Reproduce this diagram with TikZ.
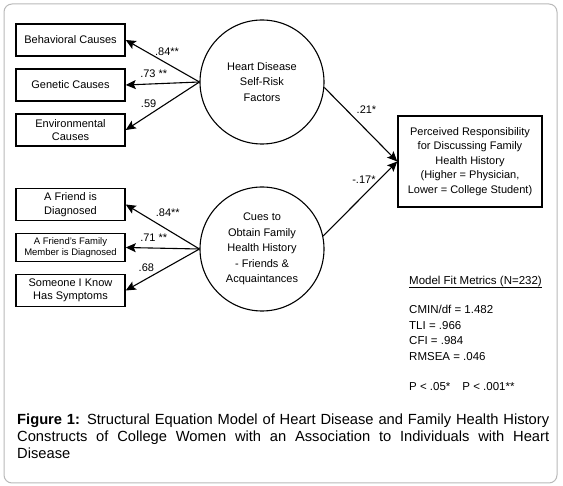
\documentclass[tikz,border=0pt]{standalone}
\usepackage{fontspec}
\setmainfont{Liberation Sans}
\usetikzlibrary{arrows.meta, positioning}

\begin{document}
\begin{tikzpicture}[
  x=1pt, y=-1pt,
  node distance=11.5pt and 2cm,
  indicator/.style={rectangle, draw, line width=1.5pt, minimum width=109pt, minimum height=32pt,
                    inner sep=1pt, align=center, font=\fontsize{11}{13.5}\selectfont},
  latent/.style={circle, draw, line width=1.1pt, minimum size=124pt, inner sep=0pt,
                 align=center, font=\fontsize{11}{15.5}\selectfont},
  outcome/.style={rectangle, draw, line width=1.5pt, minimum width=144pt, minimum height=91pt,
                  align=center, font=\fontsize{11}{14.5}\selectfont},
  coef/.style={font=\fontsize{11}{13}\selectfont, inner sep=0pt},
  metric/.style={anchor=west, inner sep=0pt, align=left, font=\fontsize{11.5}{15.5}\selectfont},
  edge/.style={-{Stealth[length=10pt, width=9pt, inset=2pt]}, line width=1.1pt},
]
  \useasboundingbox (0,0) rectangle (563,486);
  \draw[gray!55, line width=1pt, rounded corners=8pt] (4,4) rectangle (557,483);

  \node[latent] (hd) at (262,82) {Heart Disease\\Self-Risk\\Factors};
  \node[latent] (cue) at (262,249) {Cues to\\Obtain Family\\Health History\\- Friends \&\\Acquaintances};
  \node[outcome] (resp) at (470,161.5) {Perceived Responsibility\\for Discussing Family\\Health History\\(Higher = Physician,\\Lower = College Student)};

  \node[indicator] (beh) at (70.5,40) {Behavioral Causes};
  \node[indicator, below=of beh] (gen) {Genetic Causes};
  \node[indicator, below=of gen] (env) {Environmental\\Causes};

  \node[indicator] (fri) at (70.5,204.5) {A Friend is\\Diagnosed};
  \node[indicator, below=of fri, minimum height=28pt, font=\fontsize{9.5}{11.5}\selectfont] (fam) {A Friend's Family\\Member is Diagnosed};
  \node[indicator, below=of fam] (kno) {Someone I Know\\Has Symptoms};

  \draw[edge] (hd.west) -- (beh.east) node[coef, pos=0.44, yshift=12pt]{.84**};
  \draw[edge] (hd.west) -- (gen.east) node[coef, pos=0.62, yshift=10pt]{.73 **};
  \draw[edge] (hd.west) -- (env.east) node[coef, pos=0.69, yshift=11pt]{.59};
  \draw[edge] (cue.west) -- (fri.east) node[coef, pos=0.43, yshift=17pt]{.84**};
  \draw[edge] (cue.west) -- (fam.east) node[coef, pos=0.62, yshift=10pt]{.71 **};
  \draw[edge] (cue.west) -- (kno.east) node[coef, pos=0.72, yshift=11pt]{.68};
  \draw[edge] (hd.-5) -- (resp.west) node[coef, pos=0.4, xshift=13pt, yshift=7pt]{.21*};
  \draw[edge] (cue.12) -- (resp.west) node[coef, pos=0.55, yshift=15pt]{-.17*};

  \node[metric] (fit) at (409,282) {Model Fit Metrics (N=232)};
  \draw[line width=1.3pt] (fit.south west) -- (fit.south east);
  \node[metric, anchor=north west] (vals) at (409,305) {CMIN/df = 1.482\\TLI = .966\\CFI = .984\\RMSEA = .046};
  \node[metric] (sig) at (409,387) {P < .05*\hspace{12pt}P < .001**};

  \node[anchor=north west, inner sep=0pt, text width=532pt, align=justify,
        font=\fontsize{14.7}{17}\selectfont] (cap) at (17,414)
    {\textbf{Figure 1:} Structural Equation Model of Heart Disease and Family Health History\linebreak
     Constructs of College Women with an Association to Individuals with Heart\linebreak Disease};
\end{tikzpicture}
\end{document}
